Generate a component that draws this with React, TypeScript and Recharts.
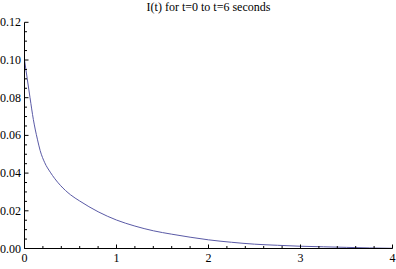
import React from 'react';
import { LineChart, Line, XAxis, YAxis } from 'recharts';

// curve
const times = [0, 0.03, 0.06, 0.096, 0.14, 0.17, 0.22, 0.28, 0.33, 0.39, 0.5, 0.6, 0.8, 1.0, 1.2, 1.4, 1.6, 1.8, 2.0, 2.25, 2.5, 2.75, 3.0, 3.25, 3.5, 3.75, 4.0];
const current = [0.1, 0.09, 0.08, 0.0685, 0.058, 0.052, 0.0455, 0.0405, 0.037, 0.0335, 0.0285, 0.0252, 0.0195, 0.0151, 0.0119, 0.0094, 0.0076, 0.006, 0.0046, 0.0033, 0.0023, 0.0017, 0.0012, 0.0009, 0.0006, 0.0003, 0.0001];

const majorX = [0, 1, 2, 3, 4];
const minorX = [0.2, 0.4, 0.6, 0.8, 1.2, 1.4, 1.6, 1.8, 2.2, 2.4, 2.6, 2.8, 3.2, 3.4, 3.6, 3.8];
const majorY = [0, 0.02, 0.04, 0.06, 0.08, 0.1, 0.12];
const minorY = [0.005, 0.01, 0.015, 0.025, 0.03, 0.035, 0.045, 0.05, 0.055, 0.065, 0.07, 0.075, 0.085, 0.09, 0.095, 0.105, 0.11, 0.115];

const title = 'I(t) for t=0 to t=6 seconds';

const data = times.map((t, i) => ({ t, i: current[i] }));

const FONT = 'Liberation Serif, DejaVu Serif, serif';

const isMajor = (list: number[], v: number) => list.some((m) => Math.abs(m - v) < 1e-9);

const XTick = (props: any) => {
  const { x, y, payload } = props;
  const major = isMajor(majorX, payload.value);
  return (
    <g>
      <line x1={x} x2={x} y1={y} y2={y - (major ? 4 : 2.5)} stroke="#000" />
      {major && (
        <text x={x} y={y + 13} textAnchor="middle" fontSize={12} fontFamily={FONT} fill="#000">
          {payload.value}
        </text>
      )}
    </g>
  );
};

const YTick = (props: any) => {
  const { x, y, payload } = props;
  const major = isMajor(majorY, payload.value);
  return (
    <g>
      <line x1={x} x2={x + (major ? 4 : 2.5)} y1={y} y2={y} stroke="#000" />
      {major && (
        <text x={x - 3.5} y={y + 4} textAnchor="end" fontSize={12} fontFamily={FONT} fill="#000">
          {payload.value.toFixed(2)}
        </text>
      )}
    </g>
  );
};

export default function App() {
  return (
    <div style={{ position: 'absolute', left: 0, top: 0, width: 396, height: 269, background: '#fff' }}>
      <div
        style={{
          position: 'absolute',
          left: 24.5,
          top: 0,
          width: 368,
          textAlign: 'center',
          fontFamily: FONT,
          fontSize: 12,
          lineHeight: '14px',
          color: '#000',
        }}
      >
        {title}
      </div>
      <LineChart width={396} height={269} data={data} margin={{ top: 22.3, right: 3.5, bottom: 0, left: 0 }}>
        <XAxis
          dataKey="t"
          type="number"
          domain={[0, 4]}
          ticks={[...majorX, ...minorX].sort((a, b) => a - b)}
          interval={0}
          height={20.5}
          tickSize={0}
          tickMargin={0}
          tickLine={false}
          axisLine={{ stroke: '#000' }}
          tick={<XTick />}
        />
        <YAxis
          type="number"
          domain={[0, 0.12]}
          ticks={[...majorY, ...minorY].sort((a, b) => a - b)}
          interval={0}
          width={24.5}
          tickSize={0}
          tickMargin={0}
          tickLine={false}
          axisLine={{ stroke: '#000' }}
          tick={<YTick />}
        />
        <Line
          type="monotone"
          dataKey="i"
          stroke="#5a5aa6"
          strokeWidth={1}
          dot={false}
          isAnimationActive={false}
        />
      </LineChart>
    </div>
  );
}
